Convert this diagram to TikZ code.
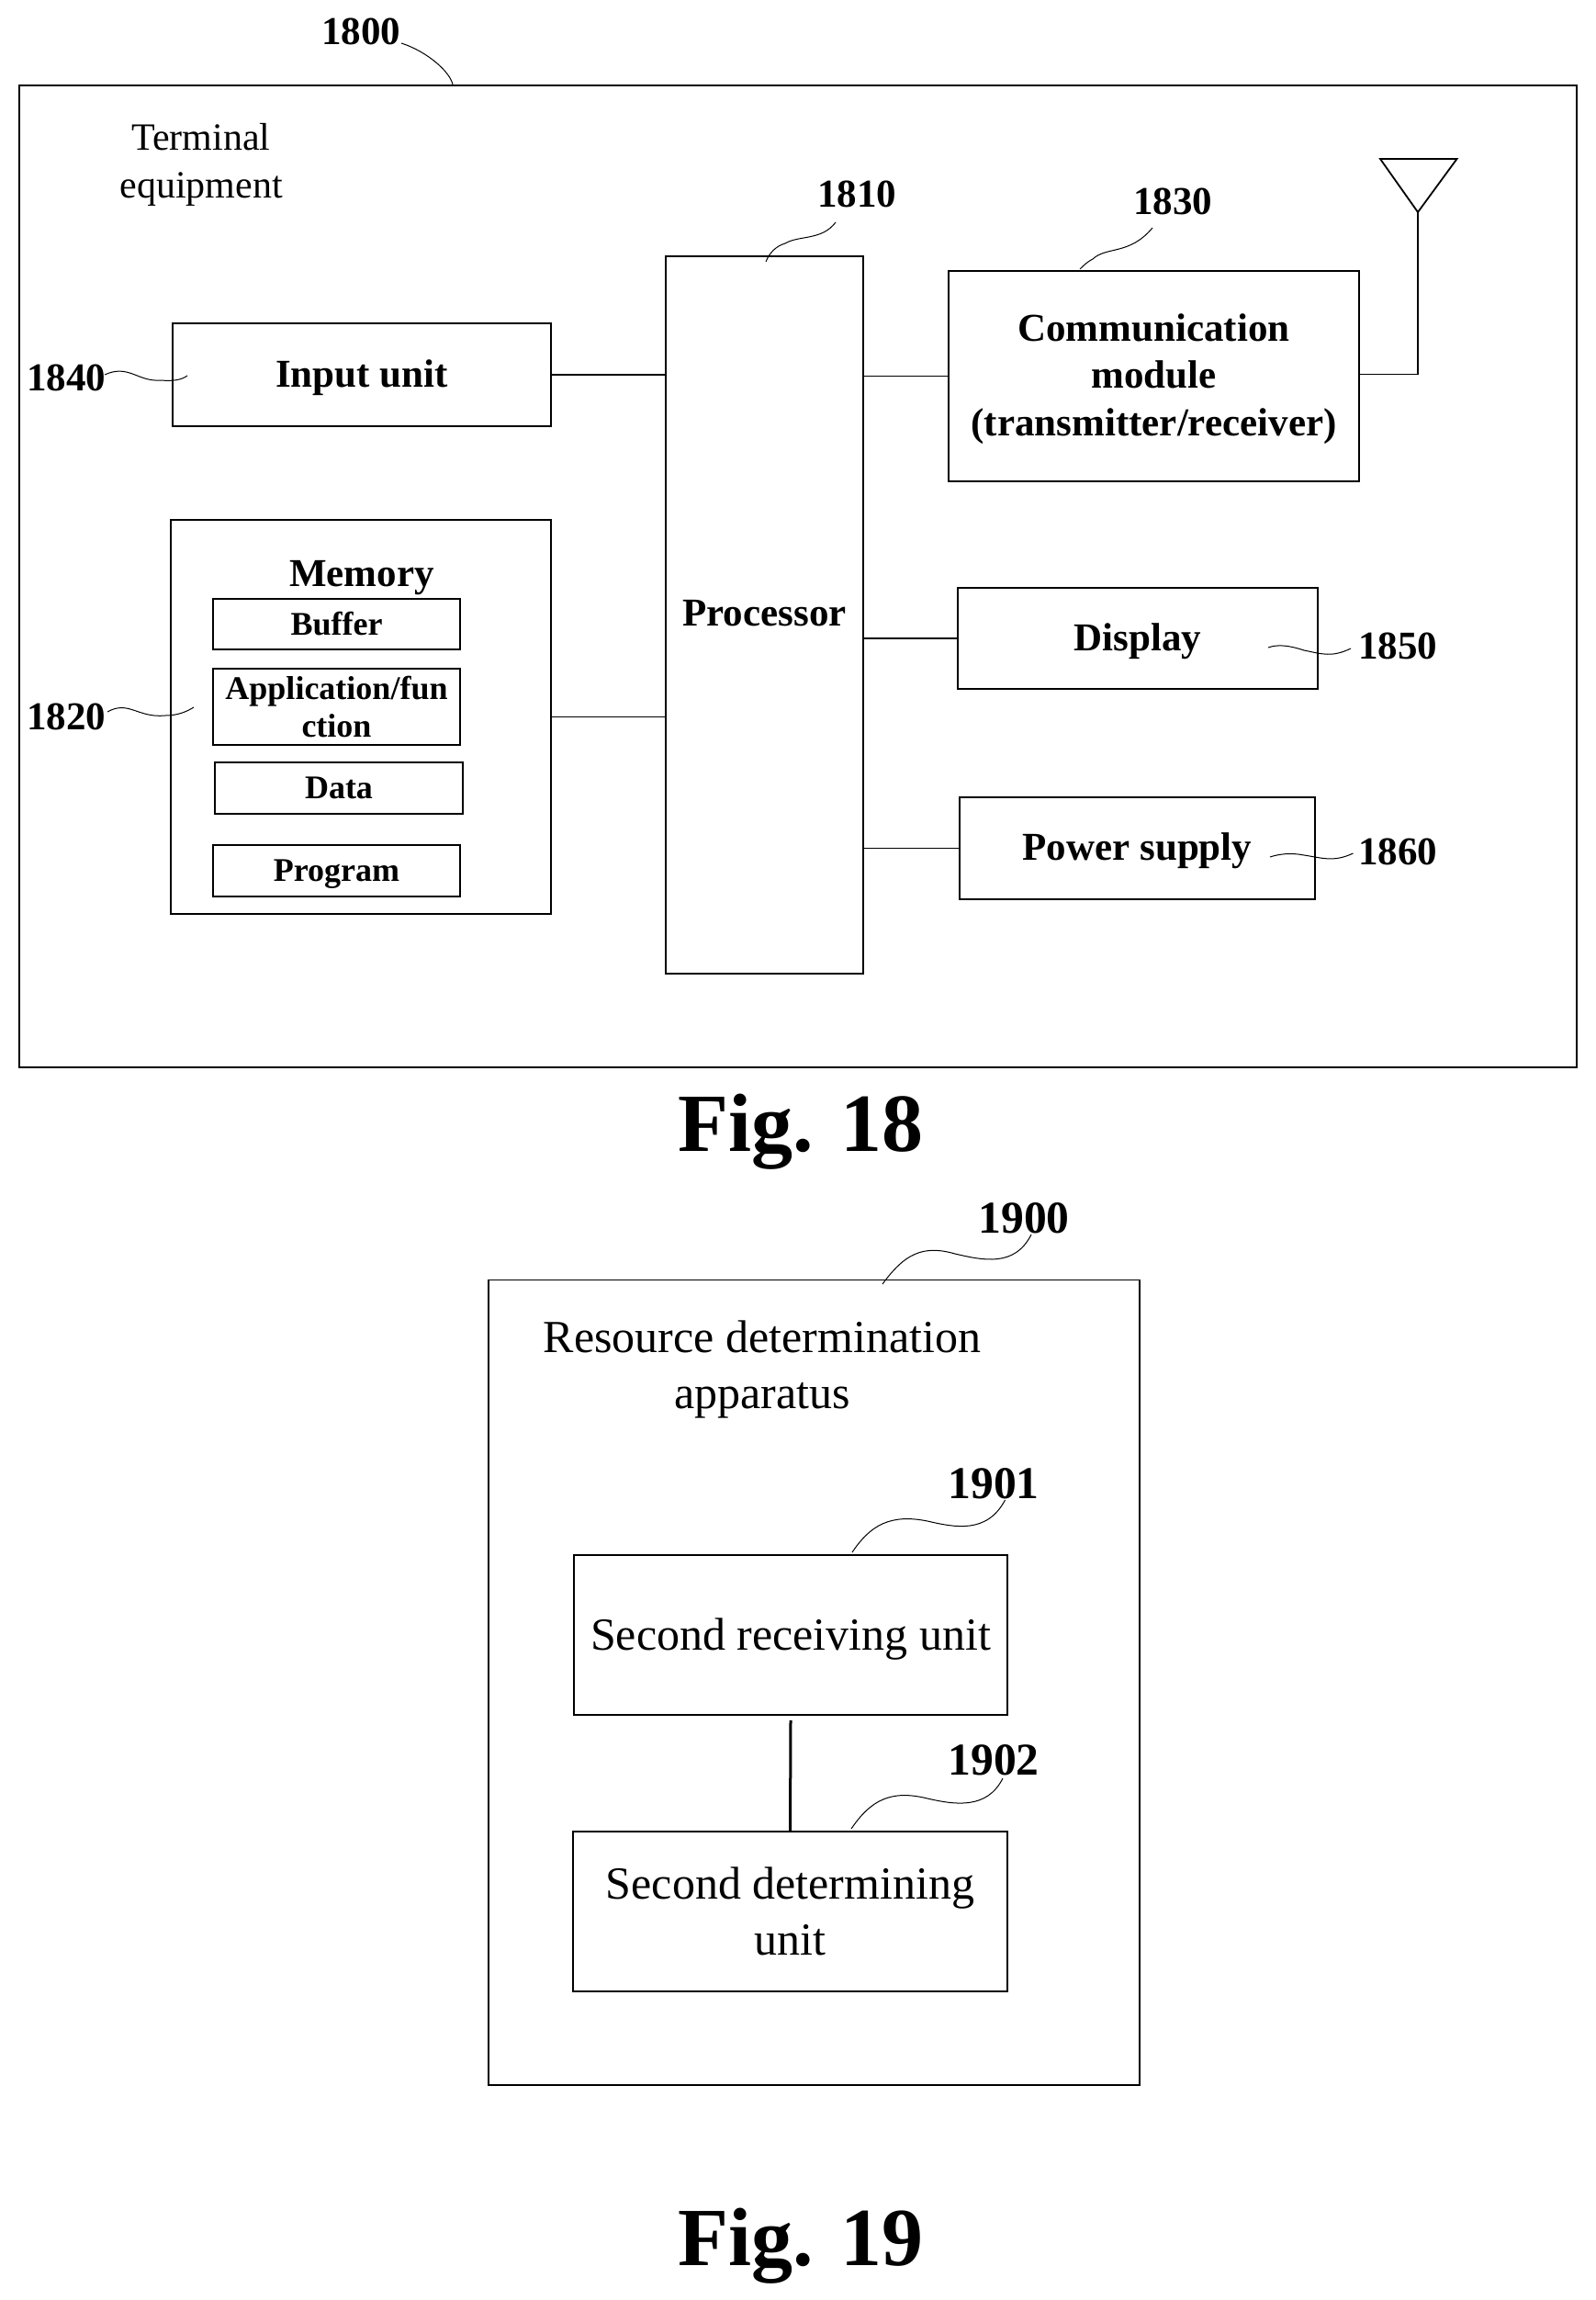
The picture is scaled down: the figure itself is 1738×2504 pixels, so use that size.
\documentclass[tikz,border=0pt]{standalone}
\usepackage{fontspec}
\setmainfont{Liberation Serif}
\newcommand{\fs}[2]{\fontsize{#1}{#2}\selectfont}
\newcommand{\strutup}[1]{\rule{0pt}{#1}}
\newcommand{\strutdn}[1]{\rule[-#1]{0pt}{0pt}}
\tikzset{
  box/.style={draw=black,line width=0.9pt,inner sep=0pt,align=center,fill=white},
  big/.style={box,font=\bfseries\fs{21.5}{25.6}},
  small/.style={box,font=\bfseries\fs{18}{20.8}},
  wire/.style={draw=black,line width=0.9pt},
  lead/.style={draw=black,line width=0.5pt},
  numa/.style={anchor=base,inner sep=0pt,font=\bfseries\fs{21.5}{24}},
  numb/.style={anchor=base,inner sep=0pt,font=\bfseries\fs{24.8}{28}},
  plaina/.style={inner sep=0pt,align=center,font=\fs{21}{26}},
  plainb/.style={inner sep=0pt,align=center,font=\fs{25}{30.5}},
  figcap/.style={anchor=base,inner sep=0pt,font=\bfseries\fs{45}{50}}
}
\begin{document}
\begin{tikzpicture}[x=0.5pt,y=-0.5pt]
\useasboundingbox (0,0) rectangle (1738,2504);
% Fig. 18 boxes
\node[box,minimum width=848pt,minimum height=534.5pt] (term) at (869,627.5) {};
\node[plaina] (termtxt) at (219,179) {Terminal\\equipment};
\node[big,minimum width=206pt,minimum height=56pt] (input) at (394,408) {\strutup{17.7pt}Input unit};
\node[box,minimum width=207pt,minimum height=214.5pt] (mem) at (393,780.5) {};
\node[anchor=base,inner sep=0pt,font=\bfseries\fs{21.5}{25}] (memtxt) at (394,638.5) {Memory};
\node[small,minimum width=134.75pt,minimum height=27.5pt] (buf) at (366.5,679.5) {Buffer};
\node[small,minimum width=134.75pt,minimum height=41.5pt] (app) at (366.5,769.5) {Application/fun\\ction};
\node[small,minimum width=135pt,minimum height=28pt] (data) at (369,858) {Data};
\node[small,minimum width=134.75pt,minimum height=28pt] (prog) at (366.5,948) {\strutup{15.8pt}Program};
\node[big,minimum width=107.5pt,minimum height=390.5pt] (proc) at (832.5,669.5) {Processor\strutdn{1.6pt}};
\node[big,minimum width=223.5pt,minimum height=114.5pt] (comm) at (1256.5,409.5) {\strutup{18pt}Communication\\module\\(transmitter/receiver)};
\node[big,minimum width=196pt,minimum height=55pt] (disp) at (1239,695) {\strutup{17.7pt}Display};
\node[big,minimum width=193.5pt,minimum height=55.5pt] (pow) at (1238.5,923.5) {\strutup{17.7pt}Power supply};
% connectors
\draw[wire] (input.east) -- (input.east -| proc.west);
\draw[wire] (mem.east) -- (mem.east -| proc.west);
\draw[wire] (comm.west) -- (comm.west -| proc.east);
\draw[wire] (disp.west) -- (disp.west -| proc.east);
\draw[wire] (pow.west) -- (pow.west -| proc.east);
% antenna
\coordinate (apex) at (1544,231);
\coordinate (antl) at (1503,173);
\coordinate (antr) at (1586.5,173);
\draw[wire] ([yshift=1pt]comm.east) -| (apex);
\draw[wire,line join=miter] (apex) -- (antl) -- (antr) -- cycle;
% number labels Fig. 18
\node[numa] (n1800) at (393,49) {1800};
\node[numa] (n1840) at (72,425) {1840};
\node[numa] (n1820) at (72,794) {1820};
\node[numa] (n1810) at (933,226) {1810};
\node[numa] (n1830) at (1277,234) {1830};
\node[numa] (n1850) at (1522,717) {1850};
\node[numa] (n1860) at (1522,941) {1860};
\coordinate (e1800) at (493,92);
\coordinate (s1800) at (437,47);
\draw[lead] (s1800) .. controls (465,56) and (490,78) .. (e1800);
\coordinate (s1840) at (114,408);
\coordinate (e1840) at (204,409);
\draw[lead] (s1840) .. controls (140,396) and (150,416) .. (175,414) .. controls (188,415) and (197,414) .. (e1840);
\coordinate (s1820) at (117,775);
\coordinate (e1820) at (211,770);
\draw[lead] (s1820) .. controls (140,762) and (150,782) .. (180,779) .. controls (193,779) and (203,775) .. (e1820);
\coordinate (s1810) at (910,242);
\coordinate (e1810) at (834,285);
\draw[lead] (s1810) .. controls (895,262) and (870,256) .. (855,265) .. controls (845,268) and (838,275) .. (e1810);
\coordinate (s1830) at (1255,248);
\coordinate (e1830) at (1176,293);
\draw[lead] (s1830) .. controls (1230,278) and (1205,268) .. (1190,282) .. controls (1184,285) and (1180,289) .. (e1830);
\coordinate (s1850) at (1471,706);
\coordinate (e1850) at (1381,705);
\draw[lead] (s1850) .. controls (1450,716) and (1440,712) .. (1420,708) .. controls (1405,703) and (1392,701) .. (e1850);
\coordinate (s1860) at (1473.5,929);
\coordinate (e1860) at (1383,933);
\draw[lead] (s1860) .. controls (1452,939) and (1440,934) .. (1420,931) .. controls (1405,928) and (1392,930) .. (e1860);
\node[figcap] (f18) at (872,1253) {Fig. 18};
% Fig. 19
\node[box,minimum width=354.5pt,minimum height=438.25pt] (app19) at (886.5,1831.75) {};
\node[plainb] (apptxt) at (830,1491) {Resource determination\\apparatus};
\node[box,font=\fs{25}{30.5},minimum width=236.25pt,minimum height=87pt] (rx) at (861,1780) {\strutup{21.8pt}Second receiving unit};
\node[box,font=\fs{25}{30.5},minimum width=236.5pt,minimum height=87pt] (det) at (860.5,2081) {Second determining\\unit};
\draw[draw=black,line width=1.5pt] ([yshift=-2.5pt]rx.south) -- (det.north);
\node[numb] (n1900) at (1115,1342) {1900};
\node[numb] (n1901) at (1082,1631) {1901};
\node[numb] (n1902) at (1082,1932) {1902};
\coordinate (s1900) at (1123,1344);
\coordinate (e1900) at (961,1398);
\draw[lead] (s1900) .. controls (1105,1380) and (1070,1372) .. (1040,1365) .. controls (1005,1355) and (985,1365) .. (e1900);
\coordinate (s1901) at (1094.5,1633);
\coordinate (e1901) at (928,1690);
\draw[lead] (s1901) .. controls (1075,1670) and (1040,1663) .. (1010,1656) .. controls (970,1648) and (948,1660) .. (e1901);
\coordinate (s1902) at (1092,1936);
\coordinate (e1902) at (927,1991);
\draw[lead] (s1902) .. controls (1075,1970) and (1040,1965) .. (1010,1958) .. controls (970,1948) and (948,1960) .. (e1902);
\node[figcap] (f19) at (872,2466) {Fig. 19};
\end{tikzpicture}
\end{document}
